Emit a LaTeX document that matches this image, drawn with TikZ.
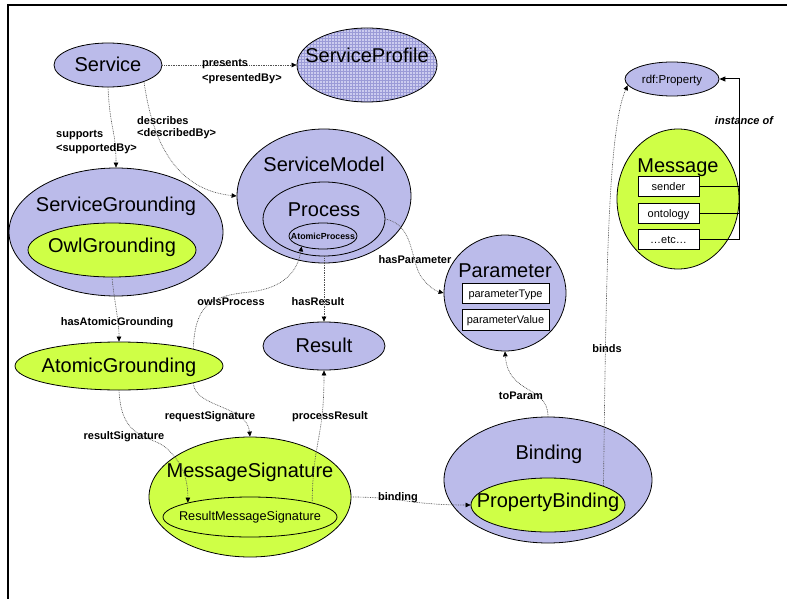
\documentclass[tikz,border=0pt]{standalone}
\usepackage{fontspec}
\setmainfont{Liberation Sans}
\usetikzlibrary{shapes.geometric,arrows.meta}
\definecolor{lav}{RGB}{187,187,234}
\definecolor{lime}{RGB}{207,255,70}
\definecolor{hatch}{RGB}{155,155,215}
\definecolor{linkgray}{RGB}{80,80,80}

\begin{document}
\begin{tikzpicture}[x=1pt,y=-1pt,
  oval/.style={ellipse, draw=black, line width=0.8pt, inner sep=0pt},
  lavoval/.style={oval, fill=lav},
  limeoval/.style={oval, fill=lime},
  bigtext/.style={font=\fontsize{20}{24}\selectfont, inner sep=0pt, text height=14pt, text depth=0pt},
  midtext/.style={font=\fontsize{12.7}{15}\selectfont, inner sep=0pt, text height=9pt, text depth=0pt},
  lbl/.style={font=\bfseries\fontsize{11}{13}\selectfont, inner sep=0pt, text height=8pt, text depth=0pt},
  slot/.style={draw=black, line width=0.8pt, fill=white, inner sep=0pt,
    font=\fontsize{11}{13}\selectfont, text height=8pt, text depth=0pt},
  rel/.style={draw=linkgray, line width=0.65pt, dash pattern=on 0.8pt off 0.9pt,
    -{Triangle[length=5pt,width=4.5pt,color=black]}},
  inst/.style={draw=black, line width=1pt, -{Triangle[length=6pt,width=5pt]}}
]
\useasboundingbox (0,0) rectangle (787,599);

% frame
\draw[line width=1.1pt] (8,599) -- (8,5) -- (787,5);

% Service and its profile
\node[lavoval, minimum width=108pt, minimum height=44pt] (svc) at (108,65) {};
\node[bigtext] (svcT) at (108,65) {Service};
\node[oval, fill=lav!75!white, minimum width=140pt, minimum height=74pt,
  path picture={\draw[hatch, line width=0.4pt, step=3pt]
    (path picture bounding box.south west) grid (path picture bounding box.north east);}]
  (prof) at (367,65) {};
\node[bigtext] (profT) at (367,56) {ServiceProfile};

% Service model with process
\node[lavoval, minimum width=174pt, minimum height=134pt] (sm) at (324,196) {};
\node[bigtext] (smT) at (324,164.5) {ServiceModel};
\node[lavoval, minimum width=122pt, minimum height=74pt] (pr) at (324,219) {};
\node[bigtext] (prT) at (324,209.5) {Process};
\node[lavoval, minimum width=68pt, minimum height=26pt] (ap) at (323,236) {};
\node[font=\bfseries\fontsize{8.8}{10}\selectfont, inner sep=0pt, text height=6.3pt, text depth=0pt] (apT) at (323,236) {AtomicProcess};

% grounding
\node[lavoval, minimum width=214pt, minimum height=128pt] (sg) at (116,232) {};
\node[bigtext] (sgT) at (116,204.5) {ServiceGrounding};
\node[limeoval, minimum width=168pt, minimum height=54pt] (og) at (112,250) {};
\node[bigtext] (ogT) at (112,245.5) {OwlGrounding};
\node[limeoval, minimum width=208pt, minimum height=48pt] (ag) at (119,366) {};
\node[bigtext] (agT) at (119,365.5) {AtomicGrounding};

% result
\node[lavoval, minimum width=122pt, minimum height=48pt] (res) at (324,346) {};
\node[bigtext] (resT) at (324,345.5) {Result};

% parameter
\node[lavoval, minimum width=122pt, minimum height=116pt] (par) at (505,293) {};
\node[bigtext] (parT) at (505,270) {Parameter};
\node[slot, minimum width=87pt, minimum height=20pt] (ptype) at (505.5,293) {parameterType};
\node[slot, minimum width=87pt, minimum height=21pt] (pvalue) at (505.5,319.5) {parameterValue};

% message signature
\node[limeoval, minimum width=202pt, minimum height=120pt] (ms) at (250,497) {};
\node[bigtext] (msT) at (250,470.5) {MessageSignature};
\node[limeoval, minimum width=174pt, minimum height=40pt] (rms) at (250,517) {};
\node[midtext] (rmsT) at (250,515.5) {ResultMessageSignature};

% binding
\node[lavoval, minimum width=208pt, minimum height=126pt] (bd) at (548,480) {};
\node[bigtext] (bdT) at (549,452.5) {Binding};
\node[limeoval, minimum width=154pt, minimum height=54pt] (pb) at (548,505) {};
\node[bigtext] (pbT) at (548,500.5) {PropertyBinding};

% rdf:Property and message
\node[lavoval, minimum width=94pt, minimum height=34pt] (prop) at (672,79) {};
\node[font=\fontsize{11.5}{13}\selectfont, inner sep=0pt, text height=8.3pt, text depth=0pt] (propT) at (672,79) {rdf:Property};
\node[limeoval, minimum width=122pt, minimum height=140pt] (msg) at (678,199) {};
\node[bigtext] (msgT) at (678,165.5) {Message};
\node[slot, minimum width=61pt, minimum height=20pt] (sender) at (668.5,186) {sender};
\node[slot, minimum width=61pt, minimum height=20pt] (onto) at (668.5,213) {ontology};
\node[slot, minimum width=61pt, minimum height=20pt] (etcb) at (668.5,239) {…etc…};

% relations
\draw[rel] (svc.east) -- (prof.west);
\draw[rel] (svc.south) .. controls (110,130) and (116,130) .. (sg.north);
\draw[rel] (svc.-25) .. controls (152,140) and (175,190) .. (sm.west);
\draw[rel] (og.south) .. controls (114,300) and (119,320) .. (ag.north);
\draw[rel] (ag.13) .. controls (195,305) and (210,296) .. (250,292)
  .. controls (285,288) and (298,270) .. (ap.206);
\draw[rel] (pr.south) -- (res.north);
\draw[rel] (pr.east) .. controls (415,225) and (410,262) .. (422,278)
  .. controls (430,288) and (436,291) .. (par.west);
\draw[rel] (ag.-13) .. controls (195,408) and (247,405) .. (ms.north);
\draw[rel] (ag.south) .. controls (121,440) and (150,435) .. (165,447)
  .. controls (183,462) and (188,480) .. (rms.167);
\draw[rel] (rms.13) .. controls (313,440) and (324,440) .. (res.south);
\draw[rel] (ms.east) .. controls (400,497) and (410,505) .. (pb.west);
\draw[rel] (bd.north) .. controls (548,385) and (508,395) .. (par.south);
\draw[rel] (pb.19) .. controls (606,300) and (607,130) .. (prop.188);

% instance-of links
\coordinate (bus) at (739,79);
\draw[inst] (etcb.east) -| (bus) -- (prop.east);
\draw[line width=1pt] (sender.east) -- (sender.east -| bus);
\draw[line width=1pt] (onto.east) -- (onto.east -| bus);

% relation labels
\node[lbl, anchor=west] (presA) at (202,63) {presents};
\node[lbl, anchor=west] (presB) at (202,78) {<presentedBy>};
\node[lbl, anchor=west] (supA) at (56,134) {supports};
\node[lbl, anchor=west] (supB) at (56,147) {<supportedBy>};
\node[lbl, anchor=west] (descA) at (137,121) {describes};
\node[lbl, anchor=west] (descB) at (137,133) {<describedBy>};
\node[lbl] (hagL) at (117,321) {hasAtomicGrounding};
\node[lbl] (opL) at (231,301) {owlsProcess};
\node[lbl] (hrL) at (318,301) {hasResult};
\node[lbl] (hpL) at (415,259) {hasParameter};
\node[lbl] (rqL) at (210,415) {requestSignature};
\node[lbl] (rsL) at (124,435) {resultSignature};
\node[lbl] (prL) at (330,415) {processResult};
\node[lbl] (bnL) at (398,496) {binding};
\node[lbl] (tpL) at (521,395) {toParam};
\node[lbl] (bsL) at (607,348) {binds};
\node[lbl, font=\bfseries\itshape\fontsize{11}{13}\selectfont] (instL) at (744,121) {instance of};
\end{tikzpicture}
\end{document}
